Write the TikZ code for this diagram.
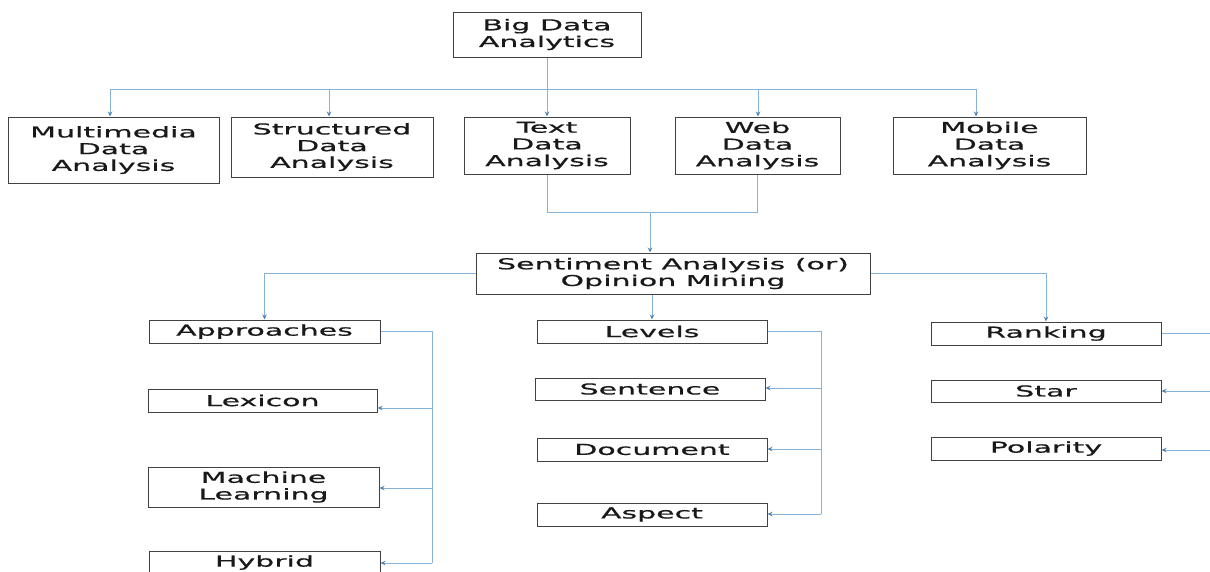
\documentclass[tikz,border=0pt]{standalone}
\usepackage{fontspec}
\newfontfamily\boxfont[FakeStretch=2.0,FakeBold=0.6]{DejaVu Sans}
\usetikzlibrary{arrows.meta}
\definecolor{lineblue}{RGB}{135,178,215}
\definecolor{tipblue}{RGB}{80,130,180}
\definecolor{boxgray}{RGB}{65,65,65}
\begin{document}
\begin{tikzpicture}[x=1pt,y=-1pt,
  box/.style={draw=boxgray, line width=1pt, inner sep=0pt, align=center,
    font=\boxfont\fontsize{15}{16.7}\selectfont, text=black!90},
  conn/.style={draw=lineblue, line width=0.9pt},
  arr/.style={conn, -{Stealth[length=5pt,width=4.5pt,color=tipblue]}}]
\useasboundingbox (0,0) rectangle (1210,571);
\fill[white] (0,0) rectangle (1210,571);

% top
\node[box, minimum width=188, minimum height=45] (big) at (547,34.5) {Big Data\\Analytics};
\node[box, minimum width=211, minimum height=66] (mm) at (113.5,150) {Multimedia\\Data\\Analysis};
\node[box, minimum width=202, minimum height=60] (sd) at (332,147) {Structured\\Data\\Analysis};
\node[box, minimum width=166, minimum height=57] (tx) at (547,145.5) {Text\\Data\\Analysis};
\node[box, minimum width=165, minimum height=57] (wb) at (757.5,145.5) {Web\\Data\\Analysis};
\node[box, minimum width=193, minimum height=57] (mb) at (989.5,145.5) {Mobile\\Data\\Analysis};

\coordinate (b1) at (110,89);
\coordinate (b2) at (329,89);
\coordinate (b3) at (547,89);
\coordinate (b4) at (758,89);
\coordinate (b5) at (976,89);
\draw[conn] (b1) -- (b5);
\draw[conn] (big.south) -- (b3);
\draw[arr] (b1) -- (b1 |- mm.north);
\draw[arr] (b2) -- (b2 |- sd.north);
\draw[arr] (b3) -- (tx.north);
\draw[arr] (b4) -- (b4 |- wb.north);
\draw[arr] (b5) -- (b5 |- mb.north);

% sentiment
\node[box, minimum width=394, minimum height=41] (sent) at (673,273.5) {Sentiment Analysis (or)\\Opinion Mining};
\coordinate (m) at (650,212);
\draw[conn] (tx.south) |- (m);
\draw[conn] (wb.south) |- (m);
\draw[arr] (m) -- (m |- sent.north);

% columns
\node[box, minimum width=231, minimum height=23] (ap) at (264.5,331.5) {Approaches};
\node[box, minimum width=229, minimum height=23] (lx) at (262.5,400.5) {Lexicon};
\node[box, minimum width=231, minimum height=40] (ml) at (263.5,487) {Machine\\Learning};
\node[box, minimum width=231, minimum height=23] (hy) at (264.5,562.5) {Hybrid};

\node[box, minimum width=230, minimum height=23] (lv) at (652,331.5) {Levels};
\node[box, minimum width=230, minimum height=22] (se) at (650,389) {Sentence};
\node[box, minimum width=230, minimum height=23] (dc) at (652,449.5) {Document};
\node[box, minimum width=230, minimum height=23] (as) at (652,514.5) {Aspect};

\node[box, minimum width=230, minimum height=23] (rk) at (1046,333.5) {Ranking};
\node[box, minimum width=230, minimum height=22] (st) at (1046,391) {Star};
\node[box, minimum width=230, minimum height=23] (po) at (1046,448.5) {Polarity};

\draw[arr] (sent.west) -| (ap.north);
\draw[arr] (sent.east) -| (rk.north);
\draw[arr] (sent.south -| lv.north) -- (lv.north);

% approaches rail
\coordinate (ra1) at (432,408);
\coordinate (ra2) at (432,488);
\coordinate (ra3) at (432,563);
\draw[conn] (ap.east) -| (ra3);
\draw[arr] (ra1) -- (ra1 -| lx.east);
\draw[arr] (ra2) -- (ra2 -| ml.east);
\draw[arr] (ra3) -- (ra3 -| hy.east);

% levels rail
\coordinate (rl1) at (821,388);
\coordinate (rl2) at (821,449);
\coordinate (rl3) at (821,514);
\draw[conn] (lv.east) -| (rl3);
\draw[arr] (rl1) -- (rl1 -| se.east);
\draw[arr] (rl2) -- (rl2 -| dc.east);
\draw[arr] (rl3) -- (rl3 -| as.east);

% ranking rail (beyond the right edge)
\coordinate (rr1) at (1213,391);
\coordinate (rr2) at (1213,450);
\draw[conn] (rk.east) -| (rr2);
\draw[arr] (rr1) -- (rr1 -| st.east);
\draw[arr] (rr2) -- (rr2 -| po.east);
\end{tikzpicture}
\end{document}
